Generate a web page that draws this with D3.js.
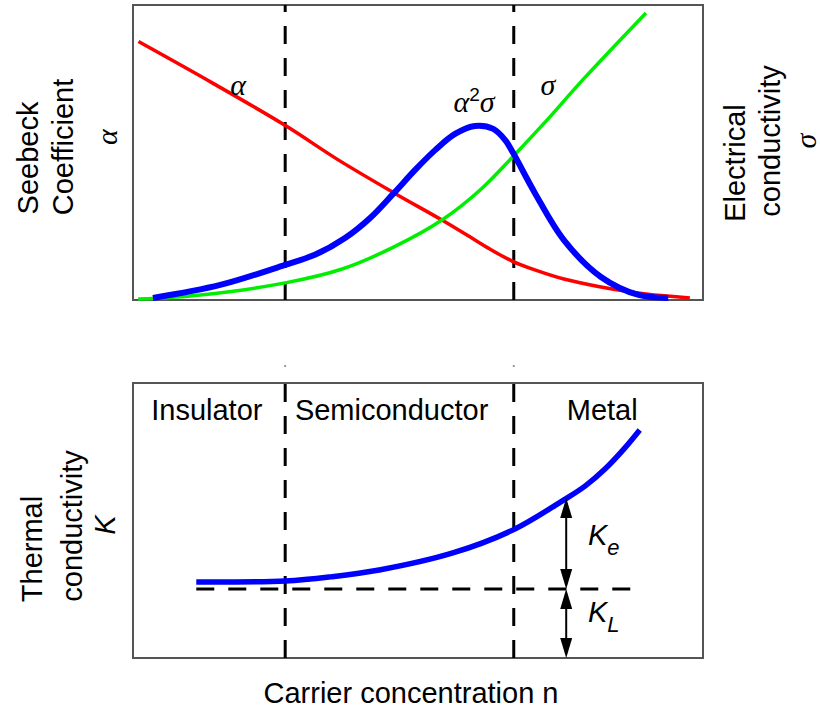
<!DOCTYPE html>
<meta charset="utf-8">
<style>
  body { margin: 0; background: #fff; }
  svg { display: block; }
  text { font-family: 'Liberation Sans', Arial, sans-serif; font-size: 29px; fill: #000; }
  .greek { font-family: 'Liberation Serif', 'DejaVu Serif', serif; font-style: italic; font-size: 30px; }
  .frame { fill: none; stroke: #555; stroke-width: 2px; }
  .bound { stroke: #000; stroke-width: 3px; stroke-dasharray: 18,14; }
</style>
<script src="https://d3js.org/d3.v7.min.js"></script>
<svg width="820" height="712"></svg>
<script>
  // carrier concentration axis runs 0..100 (arbitrary units), curves
  var alphaX = [0.96, 13.9, 26.6, 36.0, 45.8, 54.2, 59.1, 62.6, 66.5, 70.5, 75.6, 82.1, 90.0, 97.7];
  var alphaY = [87.6, 73.6, 59.3, 47.5, 36.3, 27.1, 21.4, 17.3, 13.2, 10.2, 7.1, 4.4, 2.0, 0.7];

  var sigmaX = [0.9, 11.8, 26.7, 36.7, 45.8, 54.2, 60.9, 66.6, 72.5, 78.9, 90.0];
  var sigmaY = [0.3, 1.7, 5.8, 10.5, 18.0, 27.1, 37.3, 48.5, 60.7, 74.6, 97.3];

  var pfX = [3.5, 15.3, 26.7, 31.9, 37.2, 41.6, 45.8, 49.5, 53.0, 56.5, 60.0, 63.2, 65.3, 66.7, 70.5, 75.6, 82.1, 88.7, 93.9];
  var pfY = [0.7, 5.1, 11.9, 15.3, 21.0, 27.8, 36.3, 44.1, 50.8, 56.3, 59.0, 58.0, 54.2, 49.8, 36.3, 20.3, 7.8, 1.7, 0.7];

  var kappaX = [11.1, 26.7, 34.6, 43.2, 56.1, 66.6, 75.6, 79.3, 82.8, 86.3, 88.9];
  var kappaY = [27.6, 28.0, 29.5, 32.0, 38.2, 46.5, 57.5, 62.5, 68.7, 76.4, 82.9];

  var boundaries = [26.7, 66.8];
  var kLattice = 25.1;          // lattice part, dashed level
  var kLatticeX = [11.1, 88.6];
  var arrowX = 76.0;
  var regions = ["Insulator", "Semiconductor", "Metal"];
  var regionX = [3.2, 28.4, 76.1];

  var svg = d3.select("svg");

  var x = d3.scaleLinear().domain([0, 100]).range([133, 703]);
  var yTop = d3.scaleLinear().domain([0, 100]).range([300, 5]);
  var yBot = d3.scaleLinear().domain([0, 100]).range([658, 383]);

  function pairs(xs, ys) { return xs.map(function(v, i) { return [v, ys[i]]; }); }

  var lineTop = d3.line().x(function(d) { return x(d[0]); }).y(function(d) { return yTop(d[1]); })
    .curve(d3.curveCatmullRom.alpha(0.5));
  var lineBot = d3.line().x(function(d) { return x(d[0]); }).y(function(d) { return yBot(d[1]); })
    .curve(d3.curveCatmullRom.alpha(0.5));

  // ---- top panel ----
  var gTop = svg.append("g");
  gTop.append("rect").attr("class", "frame")
    .attr("x", x(0)).attr("y", yTop(100)).attr("width", x(100) - x(0)).attr("height", yTop(0) - yTop(100));

  gTop.selectAll(".bound").data(boundaries).enter().append("line").attr("class", "bound")
    .attr("x1", function(d) { return x(d); }).attr("x2", function(d) { return x(d); })
    .attr("y1", yTop(0)).attr("y2", yTop(100));

  gTop.append("path").attr("d", lineTop(pairs(alphaX, alphaY)))
    .attr("fill", "none").attr("stroke", "#ff0000").attr("stroke-width", 3.5);
  gTop.append("path").attr("d", lineTop(pairs(sigmaX, sigmaY)))
    .attr("fill", "none").attr("stroke", "#00ee00").attr("stroke-width", 3.5);
  gTop.append("path").attr("d", lineTop(pairs(pfX, pfY)))
    .attr("fill", "none").attr("stroke", "#0000ff").attr("stroke-width", 6);

  gTop.append("text").attr("class", "greek").attr("x", 238).attr("y", 95)
    .attr("text-anchor", "middle").text("α");
  gTop.append("text").attr("class", "greek").attr("x", 548).attr("y", 95)
    .attr("text-anchor", "middle").text("σ");
  var pf = gTop.append("text").attr("class", "greek").attr("x", 474).attr("y", 112)
    .attr("text-anchor", "middle");
  pf.append("tspan").text("α");
  pf.append("tspan").attr("dy", -11).style("font-style", "normal").style("font-size", "19px")
    .style("font-family", "'Liberation Sans', Arial, sans-serif").text("2");
  pf.append("tspan").attr("dy", 11).text("σ");

  // small marks between the panels
  svg.selectAll(".gap").data(boundaries).enter().append("line")
    .attr("x1", function(d) { return x(d); }).attr("x2", function(d) { return x(d); })
    .attr("y1", 365).attr("y2", 367).attr("stroke", "#999").attr("stroke-width", 2);

  // ---- bottom panel ----
  var gBot = svg.append("g");
  gBot.append("rect").attr("class", "frame")
    .attr("x", x(0)).attr("y", yBot(100)).attr("width", x(100) - x(0)).attr("height", yBot(0) - yBot(100));

  gBot.selectAll(".bound").data(boundaries).enter().append("line").attr("class", "bound")
    .attr("x1", function(d) { return x(d); }).attr("x2", function(d) { return x(d); })
    .attr("y1", yBot(0)).attr("y2", yBot(100));

  gBot.append("line").attr("class", "bound")
    .attr("x1", x(kLatticeX[0])).attr("x2", x(kLatticeX[1]))
    .attr("y1", yBot(kLattice)).attr("y2", yBot(kLattice));

  gBot.append("path").attr("d", lineBot(pairs(kappaX, kappaY)))
    .attr("fill", "none").attr("stroke", "#0000ff").attr("stroke-width", 5.5);

  gBot.selectAll(".region").data(regions).enter().append("text")
    .attr("x", function(d, i) { return x(regionX[i]); }).attr("y", 420).text(function(d) { return d; });

  // double arrows for K_e and K_L
  var kTopAtArrow = 58.2;
  function dblArrow(v0, v1) {
    var ax = x(arrowX), ya = yBot(v1), yb = yBot(v0), L = 20, W = 6;
    gBot.append("line").attr("x1", ax).attr("x2", ax).attr("y1", ya + 4).attr("y2", yb - 4)
      .attr("stroke", "#000").attr("stroke-width", 2);
    gBot.append("path").attr("d", "M" + ax + "," + ya + "L" + (ax - W) + "," + (ya + L) + "L" + (ax + W) + "," + (ya + L) + "Z");
    gBot.append("path").attr("d", "M" + ax + "," + yb + "L" + (ax - W) + "," + (yb - L) + "L" + (ax + W) + "," + (yb - L) + "Z");
  }
  dblArrow(kLattice, kTopAtArrow);
  dblArrow(0, kLattice);

  var ke = gBot.append("text").attr("x", 588).attr("y", 545).style("font-style", "italic");
  ke.append("tspan").text("K");
  ke.append("tspan").attr("dy", 10).style("font-size", "22px").text("e");
  var kl = gBot.append("text").attr("x", 588).attr("y", 622).style("font-style", "italic");
  kl.append("tspan").text("K");
  kl.append("tspan").attr("dy", 10).style("font-size", "22px").text("L");

  // ---- axis titles ----
  svg.append("text").attr("x", 411).attr("y", 703).attr("text-anchor", "middle")
    .text("Carrier concentration n");

  function vlabel(cx, cy, str, cls) {
    var t = svg.append("text").attr("transform", "translate(" + cx + "," + cy + ") rotate(-90)")
      .attr("text-anchor", "middle").attr("dy", "0.35em").text(str);
    if (cls) t.attr("class", cls);
    return t;
  }
  vlabel(28, 158, "Seebeck");
  vlabel(63, 147, "Coefficient");
  vlabel(106, 137, "α", "greek");

  vlabel(735, 163, "Electrical");
  vlabel(770, 141, "conductivity");
  vlabel(805, 141, "σ", "greek");

  vlabel(32, 549, "Thermal");
  vlabel(72, 526, "conductivity");
  vlabel(105, 525, "K").style("font-style", "italic");
</script>
